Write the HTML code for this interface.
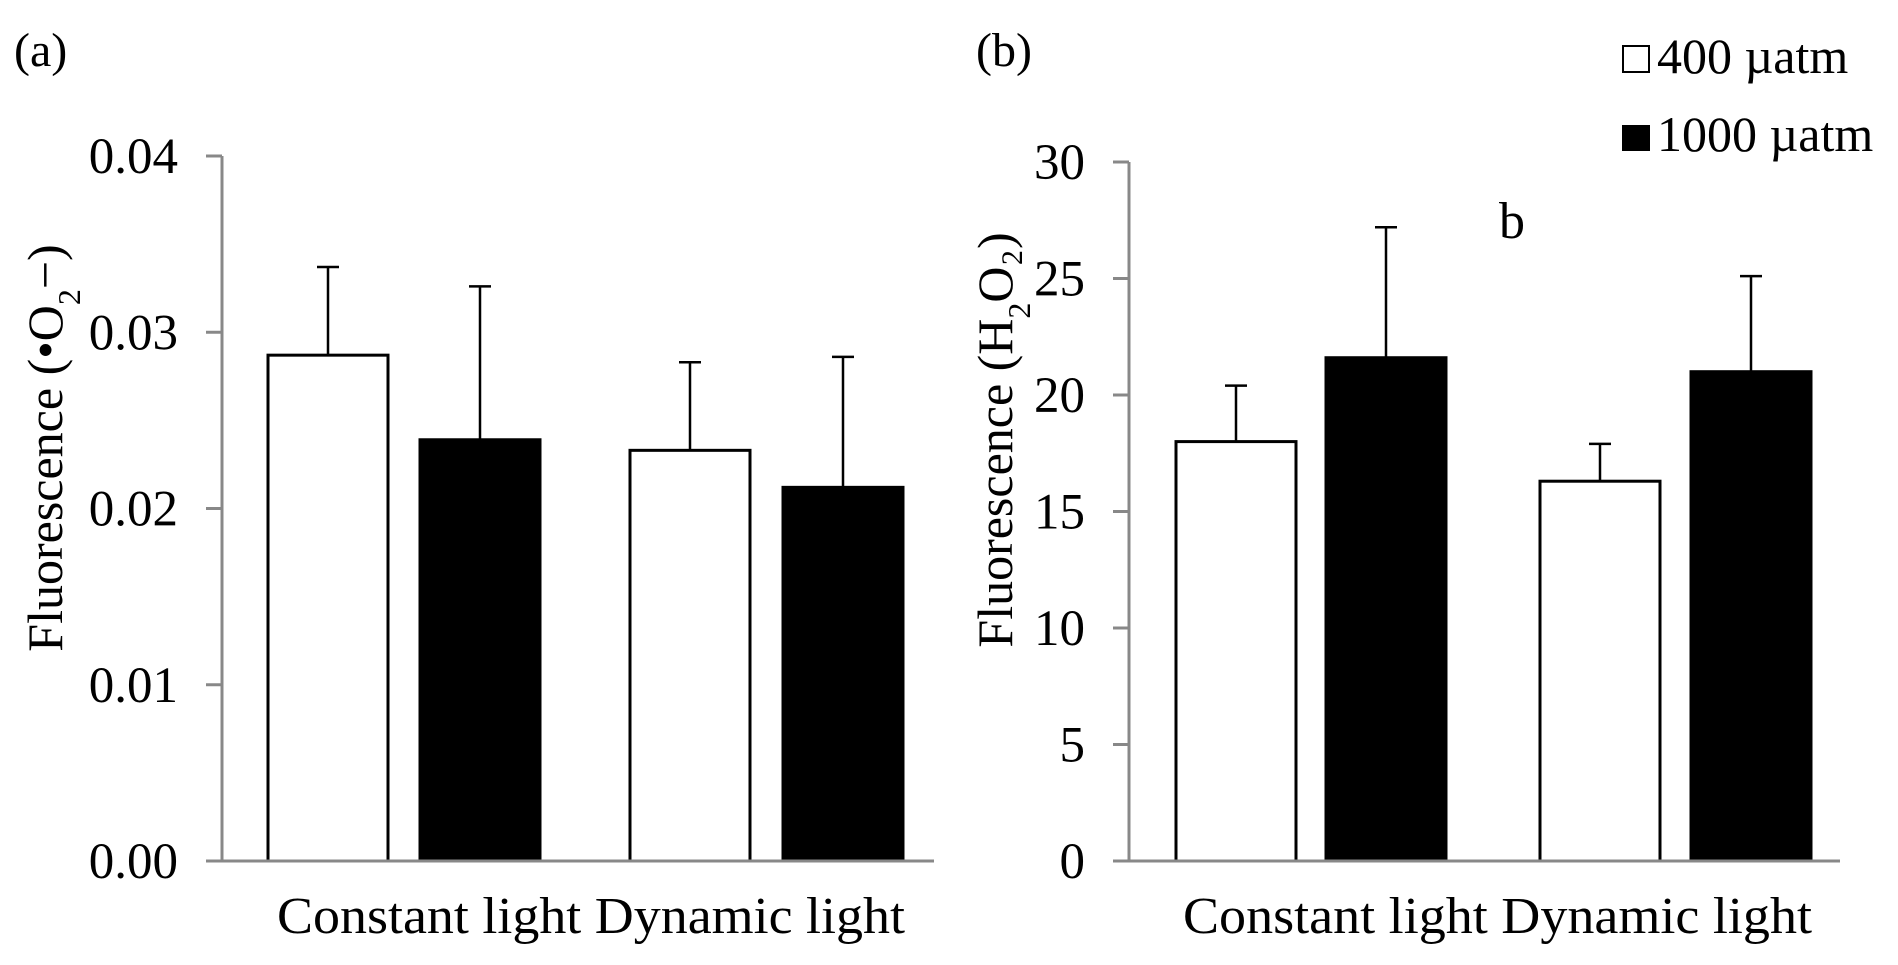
<!DOCTYPE html>
<html><head><meta charset="utf-8"><style>
html,body{margin:0;padding:0;background:#fff;}
svg{display:block;font-family:"Liberation Serif","Times New Roman",serif;}
</style></head><body>
<svg id="chart" width="1898" height="965" viewBox="0 0 1898 965" xmlns="http://www.w3.org/2000/svg">
<text x="14" y="66" font-size="48">(a)</text>
<text x="976" y="66" font-size="48">(b)</text>
<g id="panelA"></g>
<g id="panelB"></g>
<text x="1499" y="238" font-size="52">b</text>
<g>
  <rect x="1623" y="46" width="26" height="26" fill="#fff" stroke="#000" stroke-width="2"/>
  <text x="1657" y="73" font-size="50">400 µatm</text>
  <rect x="1622" y="125" width="28" height="26" fill="#000"/>
  <text x="1657" y="151" font-size="50">1000 µatm</text>
</g>
</svg>
<script>
const categories = ["Constant light", "Dynamic light"];
const seriesNames = ["400 µatm", "1000 µatm"];
const aValues400 = [0.0287, 0.0233];
const aValues1000 = [0.0239, 0.0212];
const aErr400 = [0.0050, 0.0050];
const aErr1000 = [0.0087, 0.0074];
const aTicks = ["0.00", "0.01", "0.02", "0.03", "0.04"];
const bValues400 = [18.0, 16.3];
const bValues1000 = [21.6, 21.0];
const bErr400 = [2.4, 1.6];
const bErr1000 = [5.6, 4.1];
const bTicks = ["0", "5", "10", "15", "20", "25", "30"];

const NS = "http://www.w3.org/2000/svg";
function mk(parent, tag, attrs, txt) {
  const e = document.createElementNS(NS, tag);
  for (const k in attrs) e.setAttribute(k, attrs[k]);
  if (txt !== undefined) e.textContent = txt;
  parent.appendChild(e);
  return e;
}

function drawPanel(g, cfg) {
  const yMax = parseFloat(cfg.ticks[cfg.ticks.length - 1]);
  const yScale = v => cfg.y0 - (v / yMax) * (cfg.y0 - cfg.yTop);
  const ax = mk(g, "line", {x1: cfg.ax, y1: yScale(yMax), x2: cfg.ax, y2: cfg.y0, stroke: "#888", "stroke-width": 3});
  
  
  cfg.ticks.forEach(t => {
    const y = yScale(parseFloat(t));
    const tk = mk(g, "line", {x1: cfg.ax - 16, y1: y, x2: cfg.ax, y2: y, stroke: "#888", "stroke-width": 3});
    
    
    const lb = mk(g, "text", {x: cfg.labelRight, y: y + 17, "font-size": 51, "text-anchor": "end"}, t);
    
    
  });
  const sets = [[cfg.v400, cfg.e400, "#fff", cfg.x400], [cfg.v1000, cfg.e1000, "#000", cfg.x1000]];
  sets.forEach((s, si) => {
    s[0].forEach((v, i) => {
      const x = s[3][i], w = cfg.bw;
      const top = yScale(v), errTop = yScale(v + s[1][i]);
      const cx = x + w / 2;
      const el = mk(g, "line", {x1: cx, y1: top, x2: cx, y2: errTop, stroke: "#000", "stroke-width": 2.5});
      
      
      const cap = mk(g, "line", {x1: cx - 11, y1: errTop, x2: cx + 11, y2: errTop, stroke: "#000", "stroke-width": 2.5});
      
      
      const r = mk(g, "rect", {x: x, y: top, width: w, height: cfg.y0 - top, fill: s[2], stroke: "#000", "stroke-width": 3});
      
      
    });
  });
  const xa = mk(g, "line", {x1: cfg.ax, y1: cfg.y0, x2: cfg.axEnd, y2: cfg.y0, stroke: "#888", "stroke-width": 3});
  
  
  const xl = mk(g, "text", {x: cfg.xlStart, y: 933, "font-size": 52, textLength: cfg.xlLen, lengthAdjust: "spacingAndGlyphs"}, categories.join(" "));
  
  
  const tt = mk(g, "text", {x: 0, y: 0, "font-size": 50, "text-anchor": "middle", transform: `translate(${cfg.titleX},${cfg.titleY}) rotate(-90)`});
  
  
  tt.appendChild(document.createTextNode(cfg.title[0]));
  const sub = document.createElementNS(NS, "tspan");
  sub.setAttribute("baseline-shift", "sub"); sub.setAttribute("font-size", 32);
  sub.textContent = "2";
  tt.appendChild(sub);
  const rest = document.createElementNS(NS, "tspan");
  rest.textContent = cfg.title[1];
  tt.appendChild(rest);
}

drawPanel(document.getElementById("panelA"), {
  ax: 222, axEnd: 934, y0: 861, yTop: 156, ticks: aTicks, labelRight: 178,
  v400: aValues400, v1000: aValues1000, e400: aErr400, e1000: aErr1000,
  x400: [268, 630], x1000: [420, 783], bw: 120,
  xlStart: 277, xlLen: 628, titleX: 62, titleY: 448, title: ["Fluorescence (•O", "−)"]
});
drawPanel(document.getElementById("panelB"), {
  ax: 1129, axEnd: 1840, y0: 861, yTop: 162, ticks: bTicks, labelRight: 1085,
  v400: bValues400, v1000: bValues1000, e400: bErr400, e1000: bErr1000,
  x400: [1176, 1540], x1000: [1326, 1691], bw: 120,
  xlStart: 1183, xlLen: 629, titleX: 1012, titleY: 440, title: ["Fluorescence (H", "O₂)"]
});
</script>
</body></html>
